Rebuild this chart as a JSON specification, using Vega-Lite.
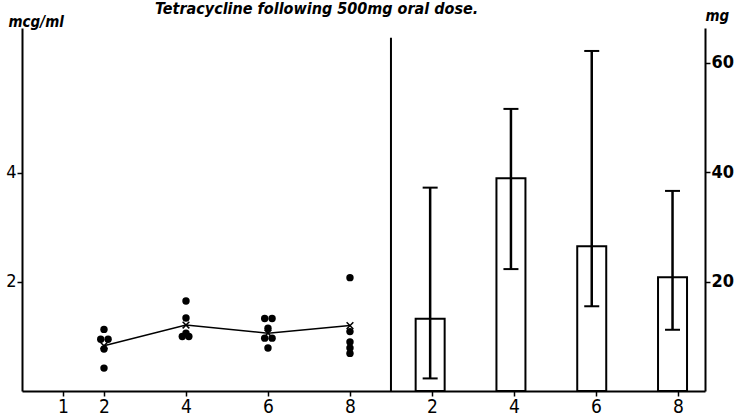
{
  "$schema": "https://vega.github.io/schema/vega-lite/v6.json",
  "width": 683,
  "height": 363,
  "autosize": {"type": "none"},
  "padding": {"left": 22, "top": 28, "right": 33, "bottom": 27},
  "background": "white",
  "config": {
    "view": {"stroke": null},
    "font": "DejaVu Sans Condensed, DejaVu Sans, sans-serif",
    "axis": {
      "grid": false,
      "domainColor": "black",
      "domainWidth": 2,
      "tickColor": "black",
      "tickWidth": 1.5,
      "labelColor": "black",
      "titleColor": "black",
      "labelFont": "DejaVu Sans Condensed, DejaVu Sans, sans-serif"
    }
  },
  "title": {
    "text": "Tetracycline following 500mg oral dose.",
    "font": "DejaVu Sans Condensed, DejaVu Sans, sans-serif",
    "fontStyle": "italic",
    "fontWeight": "bold",
    "fontSize": 16,
    "color": "black",
    "anchor": "start",
    "frame": "group",
    "dx": 133,
    "baseline": "alphabetic",
    "offset": -22
  },
  "datasets": {
    "points": [
      {"hour": 2.0, "value": 1.13},
      {"hour": 1.92, "value": 0.95},
      {"hour": 2.1, "value": 0.95},
      {"hour": 2.0, "value": 0.77},
      {"hour": 2.0, "value": 0.42},
      {"hour": 4.0, "value": 1.65},
      {"hour": 4.0, "value": 1.34},
      {"hour": 4.0, "value": 1.06},
      {"hour": 3.91, "value": 1.0},
      {"hour": 4.07, "value": 1.0},
      {"hour": 5.92, "value": 1.33},
      {"hour": 6.1, "value": 1.33},
      {"hour": 6.0, "value": 1.15},
      {"hour": 5.92, "value": 0.97},
      {"hour": 6.1, "value": 0.97},
      {"hour": 6.0, "value": 0.79},
      {"hour": 8.0, "value": 2.08},
      {"hour": 8.0, "value": 1.09},
      {"hour": 8.0, "value": 0.9},
      {"hour": 8.0, "value": 0.79},
      {"hour": 8.0, "value": 0.69}
    ],
    "means": [
      {"hour": 2, "value": 0.83},
      {"hour": 4, "value": 1.21},
      {"hour": 6, "value": 1.06},
      {"hour": 8, "value": 1.2}
    ],
    "divider": [
      {"hour": 9, "value": 0, "top": 6.48}
    ],
    "bars": [
      {"hour": 2, "mg": 13.2, "lo": 2.3, "hi": 37.2},
      {"hour": 4, "mg": 38.9, "lo": 22.3, "hi": 51.6},
      {"hour": 6, "mg": 26.5, "lo": 15.5, "hi": 62.2},
      {"hour": 8, "mg": 20.8, "lo": 11.2, "hi": 36.6}
    ]
  },
  "layer": [
    {
      "layer": [
        {
          "data": {"name": "divider"},
          "mark": {"type": "rule", "color": "black", "strokeWidth": 2},
          "encoding": {
            "x": {
              "field": "hour", "type": "quantitative",
              "scale": {"domain": [0, 16.66], "nice": false, "zero": false},
              "axis": {
                "values": [1, 2, 4, 6, 8, 10, 12, 14, 16],
                "labelExpr": "datum.value > 9 ? datum.value - 8 : datum.value",
                "title": null,
                "tickSize": 5,
                "labelFontSize": 19,
                "labelPadding": 1,
                "labelFlush": false
              }
            },
            "y": {
              "field": "value", "type": "quantitative",
              "scale": {"domain": [0, 6.66], "nice": false},
              "axis": {
                "values": [2, 4],
                "format": "d",
                "tickSize": 5,
                "labelFontSize": 18,
                "labelPadding": 1,
                "title": "mcg/ml",
                "titleAngle": 0,
                "titleX": -14,
                "titleY": -2,
                "titleAlign": "left",
                "titleBaseline": "alphabetic",
                "titleFontStyle": "italic",
                "titleFontWeight": "bold",
                "titleFontSize": 15,
                "titleFont": "DejaVu Sans Condensed, DejaVu Sans, sans-serif"
              }
            },
            "y2": {"field": "top"}
          }
        },
        {
          "data": {"name": "means"},
          "mark": {"type": "line", "color": "black", "strokeWidth": 1.5},
          "encoding": {
            "x": {"field": "hour", "type": "quantitative", "scale": {"domain": [0, 16.66], "nice": false, "zero": false}},
            "y": {"field": "value", "type": "quantitative", "scale": {"domain": [0, 6.66], "nice": false}}
          }
        },
        {
          "data": {"name": "points"},
          "mark": {"type": "point", "filled": true, "color": "black", "opacity": 1, "size": 55},
          "encoding": {
            "x": {"field": "hour", "type": "quantitative", "scale": {"domain": [0, 16.66], "nice": false, "zero": false}},
            "y": {"field": "value", "type": "quantitative", "scale": {"domain": [0, 6.66], "nice": false}}
          }
        },
        {
          "data": {"name": "means"},
          "mark": {"type": "point", "shape": "M-1,-1L1,1M-1,1L1,-1", "filled": false, "color": "black", "opacity": 1, "strokeWidth": 1.5, "size": 45},
          "encoding": {
            "x": {"field": "hour", "type": "quantitative", "scale": {"domain": [0, 16.66], "nice": false, "zero": false}},
            "y": {"field": "value", "type": "quantitative", "scale": {"domain": [0, 6.66], "nice": false}}
          }
        }
      ]
    },
    {
      "data": {"name": "bars"},
      "layer": [
        {
          "mark": {"type": "bar", "width": 29, "fill": "white", "stroke": "black", "strokeWidth": 2},
          "encoding": {
            "x": {"field": "hour", "type": "quantitative", "scale": {"domain": [-7.98, 8.68], "nice": false, "zero": false}, "axis": null},
            "y": {
              "field": "mg", "type": "quantitative",
              "scale": {"domain": [0, 66.4], "nice": false},
              "axis": {
                "orient": "right",
                "values": [20, 40, 60],
                "tickSize": 5,
                "labelFontSize": 18,
                "labelFontWeight": "bold",
                "labelPadding": 1,
                "title": "mg",
                "titleAngle": 0,
                "titleX": 0,
                "titleY": -8,
                "titleAlign": "left",
                "titleBaseline": "alphabetic",
                "titleFontStyle": "italic",
                "titleFontWeight": "bold",
                "titleFontSize": 15,
                "titleFont": "DejaVu Sans Condensed, DejaVu Sans, sans-serif"
              }
            }
          }
        },
        {
          "mark": {"type": "rule", "color": "black", "strokeWidth": 2.5},
          "encoding": {
            "x": {"field": "hour", "type": "quantitative", "scale": {"domain": [-7.98, 8.68], "nice": false, "zero": false}},
            "y": {"field": "lo", "type": "quantitative", "scale": {"domain": [0, 66.4], "nice": false}},
            "y2": {"field": "hi"}
          }
        },
        {
          "mark": {"type": "tick", "orient": "horizontal", "color": "black", "size": 15, "thickness": 2, "opacity": 1},
          "encoding": {
            "x": {"field": "hour", "type": "quantitative", "scale": {"domain": [-7.98, 8.68], "nice": false, "zero": false}},
            "y": {"field": "hi", "type": "quantitative", "scale": {"domain": [0, 66.4], "nice": false}}
          }
        },
        {
          "mark": {"type": "tick", "orient": "horizontal", "color": "black", "size": 15, "thickness": 2, "opacity": 1},
          "encoding": {
            "x": {"field": "hour", "type": "quantitative", "scale": {"domain": [-7.98, 8.68], "nice": false, "zero": false}},
            "y": {"field": "lo", "type": "quantitative", "scale": {"domain": [0, 66.4], "nice": false}}
          }
        }
      ]
    }
  ],
  "resolve": {
    "scale": {"x": "independent", "y": "independent"},
    "axis": {"x": "independent", "y": "independent"}
  }
}
